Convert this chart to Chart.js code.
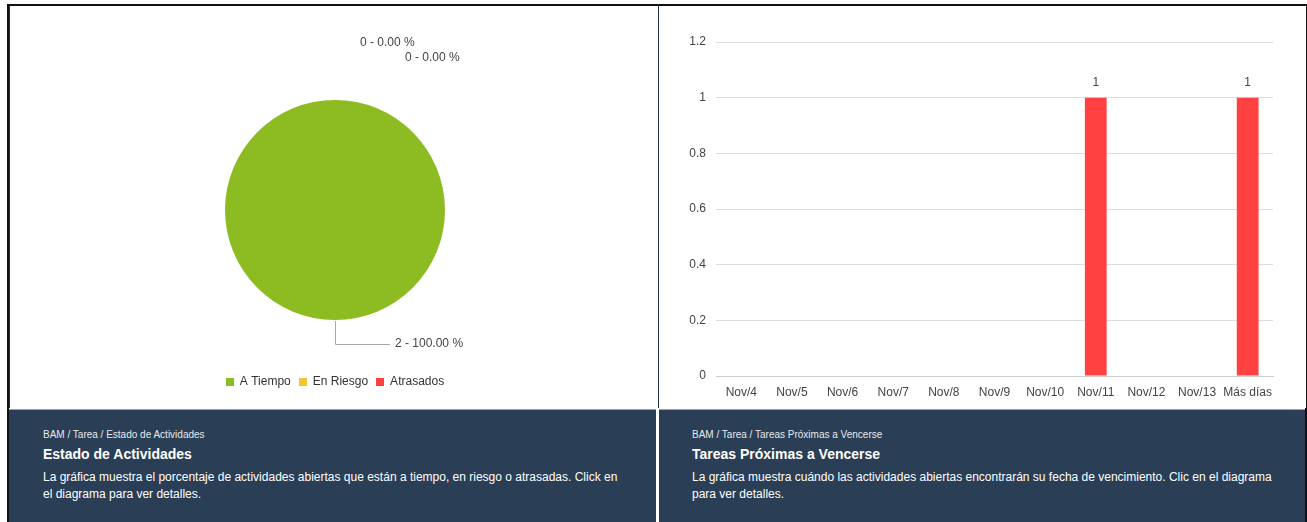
<!DOCTYPE html>
<html>
<head>
<meta charset="utf-8">
<script src="https://cdn.jsdelivr.net/npm/chart.js@4"></script>
<style>
  html, body { margin:0; padding:0; background:#fff; width:1307px; height:522px; overflow:hidden; font-family:"Liberation Sans", Arial, sans-serif; }
  #frame { position:absolute; left:7px; top:4px; width:1296px; height:520px; border:2px solid #111; border-bottom:none; }
  .panel { position:absolute; top:6px; height:516px; }
  #p1 { left:9px; width:648px; }
  #p2 { left:658px; width:647px; }
  #p2 .chartbox { border-left:1px solid #1f3349; }
  #p1 .chartbox { border-left:1px solid #1f3349; }
  .chartbox { position:absolute; left:0; top:0; width:100%; height:402px; background:#fff; }
  .footer { position:absolute; top:403px; height:113px; background:#2a3e55; border-top:1px solid #9ba3ad; color:#fff; }
  #p1 .footer { left:0; width:647px; }
  #p2 .footer { left:1px; width:646px; }
  .crumb { position:absolute; top:19px; font-size:10px; color:#e6e9ee; white-space:nowrap; }
  .title { position:absolute; top:36px; font-size:14px; font-weight:bold; white-space:nowrap; }
  .desc { position:absolute; top:59px; font-size:12px; line-height:17px; white-space:nowrap; }
  #p1 .crumb, #p1 .title, #p1 .desc { left:34px; }
  #p2 .crumb, #p2 .title, #p2 .desc { left:33px; }
  canvas { display:block; }
</style>
</head>
<body>
<div id="frame"></div>
<div class="panel" id="p1">
  <div class="chartbox"><canvas id="pie"></canvas></div>
  <div class="footer">
    <div class="crumb">BAM / Tarea / Estado de Actividades</div>
    <div class="title">Estado de Actividades</div>
    <div class="desc">La gráfica muestra el porcentaje de actividades abiertas que están a tiempo, en riesgo o atrasadas. Click en<br>el diagrama para ver detalles.</div>
  </div>
</div>
<div class="panel" id="p2">
  <div class="chartbox"><canvas id="bar"></canvas></div>
  <div class="footer">
    <div class="crumb">BAM / Tarea / Tareas Próximas a Vencerse</div>
    <div class="title">Tareas Próximas a Vencerse</div>
    <div class="desc">La gráfica muestra cuándo las actividades abiertas encontrarán su fecha de vencimiento. Clic en el diagrama<br>para ver detalles.</div>
  </div>
</div>
<script>
// ---- Data ----
const pieLabels = ['A Tiempo', 'En Riesgo', 'Atrasados'];
const pieValues = [2, 0, 0];
const pieColors = ['#8dbb22', '#f9c52f', '#ff4141'];

const barCategories = ['Nov/4', 'Nov/5', 'Nov/6', 'Nov/7', 'Nov/8', 'Nov/9', 'Nov/10', 'Nov/11', 'Nov/12', 'Nov/13', 'Más días'];
const barValues = [0, 0, 0, 0, 0, 0, 0, 1, 0, 0, 1];
const yTickValues = [0, 0.2, 0.4, 0.6, 0.8, 1, 1.2];

const FONT = '"Liberation Sans", Arial, sans-serif';
Chart.defaults.font.family = FONT;
Chart.defaults.font.size = 12;
Chart.defaults.color = '#444';

// ---- Pie labels + legend plugin ----
const pieDecor = {
  id: 'pieDecor',
  afterDraw(chart) {
    const ctx = chart.ctx;
    const meta = chart.getDatasetMeta(0);
    const data = chart.data.datasets[0].data;
    const total = data.reduce((a, b) => a + b, 0);
    ctx.save();
    ctx.font = '12px ' + FONT;
    ctx.fillStyle = '#444';
    ctx.textBaseline = 'middle';
    let zeroIdx = 0;
    meta.data.forEach((arc, i) => {
      const p = arc.getProps(['x', 'y', 'startAngle', 'endAngle', 'outerRadius'], true);
      const txt = data[i] + ' - ' + (total ? (data[i] / total * 100) : 0).toFixed(2) + ' %';
      if (data[i] > 0) {
        const mid = (p.startAngle + p.endAngle) / 2;
        const r = p.outerRadius;
        const x0 = p.x + Math.cos(mid) * (r + 1);
        const y0 = p.y + Math.sin(mid) * (r + 1);
        const y1 = p.y + Math.sin(mid) * (r + 24);
        const x1 = x0 + 55;
        ctx.strokeStyle = '#a8a8a8';
        ctx.lineWidth = 1;
        ctx.beginPath();
        ctx.moveTo(Math.round(x0) + 0.5, y0);
        ctx.lineTo(Math.round(x0) + 0.5, Math.round(y1) + 0.5);
        ctx.lineTo(x1, Math.round(y1) + 0.5);
        ctx.stroke();
        ctx.textAlign = 'left';
        ctx.fillText(txt, x1 + 5, y1);
      } else {
        const top = p.y - p.outerRadius;
        ctx.textAlign = 'left';
        ctx.fillText(txt, p.x + 25 + 45 * zeroIdx, top - 57 + 15 * zeroIdx);
        zeroIdx++;
      }
    });
    // legend
    const box = 8, gap = 6, sep = 8;
    const widths = chart.data.labels.map(l => ctx.measureText(l).width);
    const total_w = widths.reduce((a, w) => a + box + gap + w, 0) + sep * (widths.length - 1);
    let x = chart.width / 2 - total_w / 2 + 1;
    const ly = 376;
    chart.data.labels.forEach((l, i) => {
      ctx.fillStyle = chart.data.datasets[0].backgroundColor[i];
      ctx.fillRect(Math.round(x), ly - 4, box, box);
      x += box + gap;
      ctx.fillStyle = '#333';
      ctx.textAlign = 'left';
      ctx.fillText(l, x, ly);
      x += widths[i] + sep;
    });
    ctx.restore();
  }
};

new Chart(document.getElementById('pie'), {
  type: 'pie',
  data: {
    labels: pieLabels,
    datasets: [{ data: pieValues, backgroundColor: pieColors, borderWidth: 0, hoverOffset: 0 }]
  },
  options: {
    responsive: true,
    maintainAspectRatio: false,
    animation: false,
    layout: { padding: { top: 94, bottom: 88, left: 2, right: 0 } },
    plugins: { legend: { display: false }, tooltip: { enabled: false } }
  },
  plugins: [pieDecor]
});

// ---- Bar value labels ----
const barValueLabels = {
  id: 'barValueLabels',
  afterDatasetsDraw(chart) {
    const ctx = chart.ctx;
    const meta = chart.getDatasetMeta(0);
    const data = chart.data.datasets[0].data;
    ctx.save();
    ctx.font = '12px ' + FONT;
    ctx.fillStyle = '#444';
    ctx.textAlign = 'center';
    ctx.textBaseline = 'middle';
    meta.data.forEach((bar, i) => {
      if (data[i] > 0) ctx.fillText(String(data[i]), bar.x, bar.y - 15);
    });
    ctx.restore();
  }
};

new Chart(document.getElementById('bar'), {
  type: 'bar',
  data: {
    labels: barCategories,
    datasets: [{ data: barValues, backgroundColor: '#ff4141', borderWidth: 0, categoryPercentage: 1, barPercentage: 0.43 }]
  },
  options: {
    responsive: true,
    maintainAspectRatio: false,
    animation: false,
    layout: { padding: { top: 36, right: 33, left: 0, bottom: 0 } },
    plugins: { legend: { display: false }, tooltip: { enabled: false } },
    scales: {
      x: {
        grid: { display: false, drawTicks: false },
        border: { display: true, color: '#cfcfcf' },
        ticks: { padding: 9, color: '#444', maxRotation: 0, autoSkip: false },
        afterFit(s) { s.height = 32; }
      },
      y: {
        min: 0,
        max: 1.2,
        afterBuildTicks(s) { s.ticks = yTickValues.map(v => ({ value: v })); },
        grid: { color: '#dcdcdc', drawTicks: false },
        border: { display: false },
        ticks: { padding: 10, color: '#444', callback: v => String(Math.round(v * 10) / 10) },
        afterFit(s) { s.width = 57; }
      }
    }
  },
  plugins: [barValueLabels]
});
</script>
</body>
</html>
